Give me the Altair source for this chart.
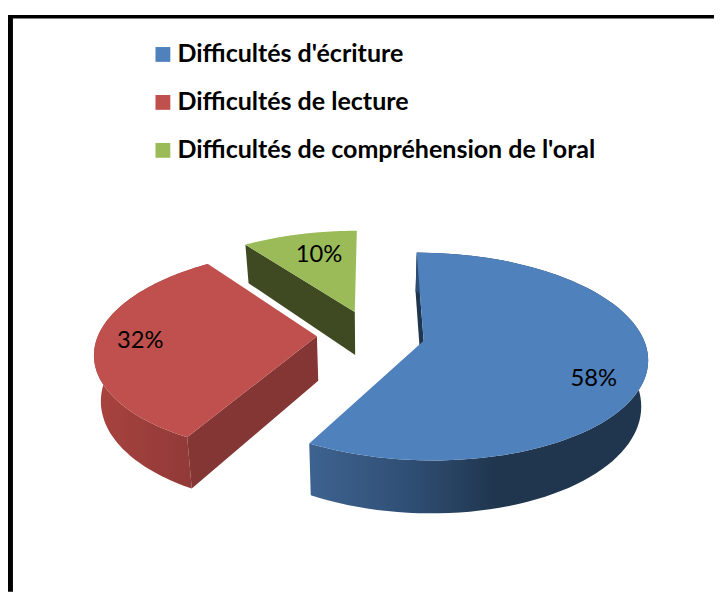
import numpy as np
import pandas as pd
import altair as alt

categories = ["Difficultés d'écriture", "Difficultés de lecture", "Difficultés de compréhension de l'oral"]
shares = [58, 32, 10]
labels = ["58%", "32%", "10%"]
top_colors = ["#4f81bd", "#c0504d", "#9bbb59"]
radial_wall_colors = ["#20364f", "#843634", "#3f4a22"]

W, H_PAGE = 714, 587
CX, CY, A, B, K, THICK, ZS, EXPLODE = 367, 327, 221, 100.8, 0.15, 45, 0.975, 0.247
LABEL_R = [0.80, 0.8, 0.7]
LABEL_TURN = [12, 0, 2]

def proj(X, Y, Z=0.0):
    s = 1.0 / (1.0 + K * Y)
    zs = 1.0 - (1.0 - ZS) * Z
    return CX + A * X * s * zs, CY - B * Y * s + THICK * Z * s

def polar(deg, r, off):
    t = np.radians(deg)
    return off[0] + r * np.sin(t), off[1] + r * np.cos(t)

edges = np.cumsum([0] + shares) * 3.6
slices = []
for i in range(len(shares)):
    a0, a1 = edges[i], edges[i + 1]
    mid = np.radians((a0 + a1) / 2)
    off = (EXPLODE * np.sin(mid), EXPLODE * np.cos(mid))
    slices.append((a0, a1, off))

rows_to_df = lambda pts: pd.DataFrame({"x": [p[0] for p in pts], "y": [p[1] for p in pts], "o": range(len(pts))})

x_scale = alt.Scale(domain=[0, W], range=[0, W])
y_scale = alt.Scale(domain=[0, H_PAGE], range=[0, H_PAGE])

def face(pts, fill):
    d = rows_to_df(pts)
    return alt.Chart(d).mark_line(fill=fill, stroke=None, strokeWidth=0, interpolate="linear-closed").encode(
        x=alt.X("x:Q", scale=x_scale, axis=None),
        y=alt.Y("y:Q", scale=y_scale, axis=None),
        order="o:Q",
    )

def top_pts(i):
    a0, a1, off = slices[i]
    pts = [proj(*off)]
    for d in np.linspace(a0, a1, 90):
        pts.append(proj(*polar(d, 1, off)))
    return pts

def outer_wall(i):
    a0, a1, off = slices[i]
    ang = np.linspace(a0, a1, 90)
    up = [proj(*polar(d, 1, off), 0) for d in ang]
    lo = [proj(*polar(d, 1, off), 1) for d in ang[::-1]]
    return up + lo

def radial_wall(i, deg):
    _, _, off = slices[i]
    e = polar(deg, 1, off)
    return [proj(*off, 0), proj(*e, 0), proj(*e, 1), proj(*off, 1)]

def grad(stops):
    return alt.Gradient(gradient="linear", x1=0, x2=1, y1=0, y2=0,
                        stops=[alt.GradientStop(offset=o, color=c) for o, c in stops])

layers = []
# green
layers += [face(radial_wall(2, edges[2]), radial_wall_colors[2]), face(top_pts(2), top_colors[2])]
# red
layers += [
    face(outer_wall(1), grad([(0, "#a8433f"), (1, "#8c3836")])),
    face(radial_wall(1, edges[1]), radial_wall_colors[1]),
    face(top_pts(1), top_colors[1]),
]
# blue
layers += [
    face(radial_wall(0, edges[0]), radial_wall_colors[0]),
    face(outer_wall(0), grad([(0, "#3e6390"), (0.3, "#2f4e74"), (0.55, "#20364f"), (1, "#20364f")])),
    face(top_pts(0), top_colors[0]),
]

# data labels
lab_rows = []
for i, (a0, a1, off) in enumerate(slices):
    lx, ly = proj(*polar((a0 + a1) / 2 + LABEL_TURN[i], LABEL_R[i], off))
    lab_rows.append({"x": lx, "y": ly, "t": labels[i]})
layers.append(
    alt.Chart(pd.DataFrame(lab_rows)).mark_text(font="Lato", fontSize=24, color="black").encode(
        x=alt.X("x:Q", scale=x_scale, axis=None), y=alt.Y("y:Q", scale=y_scale, axis=None), text="t:N"
    )
)

# frame (top and left edges only)
layers.append(alt.Chart(pd.DataFrame({"a": [0]})).mark_rule(color="black", strokeWidth=3.4).encode(
    x=alt.value(0), x2=alt.value(W), y=alt.value(5.5)))
layers.append(alt.Chart(pd.DataFrame({"a": [0]})).mark_rule(color="black", strokeWidth=5).encode(
    x=alt.value(2.5), y=alt.value(4), y2=alt.value(H_PAGE)))

# legend carrier
legend_df = pd.DataFrame({"c": categories, "x": [CX] * 3, "y": [CY] * 3})
layers.append(
    alt.Chart(legend_df).mark_point(filled=True, shape="square", size=0, opacity=1).encode(
        x=alt.X("x:Q", scale=x_scale, axis=None),
        y=alt.Y("y:Q", scale=y_scale, axis=None),
        fill=alt.Fill("c:N", scale=alt.Scale(domain=categories, range=top_colors),
                      legend=alt.Legend(title=None, orient="none", legendX=144, legendY=31,
                                        symbolType="square", symbolSize=225, symbolStrokeWidth=0,
                                        labelFont="Lato", labelFontWeight="bold", labelFontSize=25.3,
                                        labelColor="black", rowPadding=22.5, labelOffset=2, labelLimit=600,
                                        symbolOpacity=1)),
    )
)

chart = alt.layer(*layers).properties(
    width=W, height=H_PAGE, padding=0,
    autosize=alt.AutoSizeParams(type="none"),
).configure_view(stroke=None)

chart.save("out.html", embed_options={"renderer": "svg", "actions": False})
